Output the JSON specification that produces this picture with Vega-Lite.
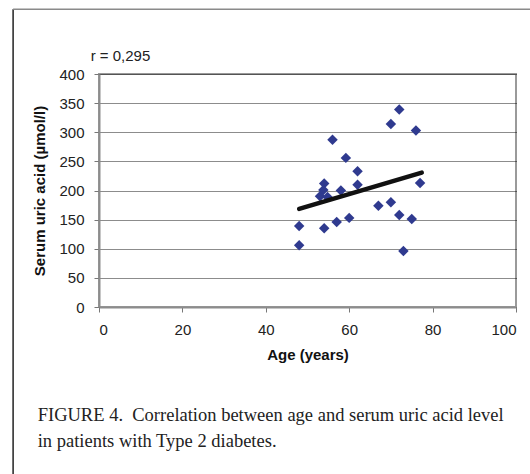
{
  "$schema": "https://vega.github.io/schema/vega-lite/v6.json",
  "width": 417,
  "height": 233,
  "autosize": {"type": "none"},
  "padding": {"left": 99, "top": 74, "right": 14, "bottom": 167},
  "background": "white",
  "view": {"stroke": "#9a9a9a", "strokeWidth": 2},
  "config": {
    "axis": {
      "labelFont": "Liberation Sans",
      "labelFontSize": 15,
      "labelColor": "#222222",
      "titleFont": "Liberation Sans",
      "titleFontSize": 15,
      "titleFontWeight": "bold",
      "titleColor": "#111111",
      "domainColor": "#8c8c8c",
      "domainWidth": 2,
      "tickColor": "#777777",
      "tickSize": 5,
      "tickWidth": 1,
      "labelOverlap": false
    }
  },
  "datasets": {
    "points": [
      {"age": 48, "uric": 139},
      {"age": 48, "uric": 106},
      {"age": 54, "uric": 135},
      {"age": 54, "uric": 212},
      {"age": 53.8, "uric": 201},
      {"age": 53, "uric": 190},
      {"age": 54.8, "uric": 189},
      {"age": 56, "uric": 287},
      {"age": 58, "uric": 200},
      {"age": 57, "uric": 146},
      {"age": 59.2, "uric": 256},
      {"age": 60, "uric": 153},
      {"age": 62, "uric": 233},
      {"age": 62, "uric": 210},
      {"age": 67, "uric": 174},
      {"age": 70, "uric": 180},
      {"age": 70, "uric": 314},
      {"age": 72, "uric": 339},
      {"age": 72, "uric": 158},
      {"age": 73, "uric": 96},
      {"age": 75, "uric": 151},
      {"age": 76, "uric": 303},
      {"age": 77, "uric": 213}
    ],
    "trend": [
      {"age": 48, "uric": 168.5},
      {"age": 77.4, "uric": 230.6}
    ],
    "one": [{}]
  },
  "layer": [
    {
      "data": {"name": "points"},
      "mark": {"type": "point", "shape": "diamond", "filled": true, "size": 110, "color": "#2f3a8f", "opacity": 1},
      "encoding": {
        "x": {
          "field": "age", "type": "quantitative",
          "scale": {"domain": [0, 100], "nice": false},
          "axis": {"values": [0, 20, 40, 60, 80, 100], "title": "Age (years)", "grid": false, "labelPadding": 10, "titlePadding": 10}
        },
        "y": {
          "field": "uric", "type": "quantitative",
          "scale": {"domain": [0, 400], "nice": false},
          "axis": {"values": [0, 50, 100, 150, 200, 250, 300, 350, 400], "title": "Serum uric acid (µmol/l)", "grid": true, "gridColor": "#000000", "gridDash": [1, 1], "gridWidth": 1, "gridOpacity": 0.9, "labelPadding": 10, "titlePadding": 11}
        }
      }
    },
    {
      "data": {"name": "trend"},
      "mark": {"type": "line", "color": "#111111", "strokeWidth": 4.5, "strokeCap": "round"},
      "encoding": {
        "x": {
          "field": "age", "type": "quantitative",
          "scale": {"domain": [0, 100], "nice": false},
          "axis": {"values": [0, 20, 40, 60, 80, 100], "title": "Age (years)", "grid": false, "labelPadding": 10, "titlePadding": 10}
        },
        "y": {
          "field": "uric", "type": "quantitative",
          "scale": {"domain": [0, 400], "nice": false},
          "axis": {"values": [0, 50, 100, 150, 200, 250, 300, 350, 400], "title": "Serum uric acid (µmol/l)", "grid": true, "gridColor": "#000000", "gridDash": [1, 1], "gridWidth": 1, "gridOpacity": 0.9, "labelPadding": 10, "titlePadding": 11}
        }
      }
    },
    {
      "data": {"name": "one"},
      "mark": {"type": "rule", "color": "#222222", "strokeWidth": 1.5},
      "encoding": {
        "x": {"datum": -20.6, "type": "quantitative", "scale": {"domain": [0, 100], "nice": false}, "axis": {"values": [0, 20, 40, 60, 80, 100], "title": "Age (years)", "grid": false, "labelPadding": 10, "titlePadding": 10}},
        "y": {"datum": 511, "type": "quantitative", "scale": {"domain": [0, 400], "nice": false}, "axis": {"values": [0, 50, 100, 150, 200, 250, 300, 350, 400], "title": "Serum uric acid (µmol/l)", "grid": true, "gridColor": "#000000", "gridDash": [1, 1], "gridWidth": 1, "gridOpacity": 0.9, "labelPadding": 10, "titlePadding": 11}},
        "y2": {"datum": -290}
      }
    },
    {
      "data": {"name": "one"},
      "mark": {"type": "rule", "color": "#8a8a8a", "strokeWidth": 1.5},
      "encoding": {
        "x": {"datum": -20.6, "type": "quantitative", "scale": {"domain": [0, 100], "nice": false}, "axis": {"values": [0, 20, 40, 60, 80, 100], "title": "Age (years)", "grid": false, "labelPadding": 10, "titlePadding": 10}},
        "x2": {"datum": 105},
        "y": {"datum": 511, "type": "quantitative", "scale": {"domain": [0, 400], "nice": false}, "axis": {"values": [0, 50, 100, 150, 200, 250, 300, 350, 400], "title": "Serum uric acid (µmol/l)", "grid": true, "gridColor": "#000000", "gridDash": [1, 1], "gridWidth": 1, "gridOpacity": 0.9, "labelPadding": 10, "titlePadding": 11}}
      }
    },
    {
      "data": {"name": "one"},
      "mark": {"type": "text", "text": "r = 0,295", "font": "Liberation Sans", "fontSize": 15, "align": "left", "baseline": "middle", "color": "#222222"},
      "encoding": {
        "x": {"datum": -2, "type": "quantitative", "scale": {"domain": [0, 100], "nice": false}, "axis": {"values": [0, 20, 40, 60, 80, 100], "title": "Age (years)", "grid": false, "labelPadding": 10, "titlePadding": 10}},
        "y": {"datum": 431, "type": "quantitative", "scale": {"domain": [0, 400], "nice": false}, "axis": {"values": [0, 50, 100, 150, 200, 250, 300, 350, 400], "title": "Serum uric acid (µmol/l)", "grid": true, "gridColor": "#000000", "gridDash": [1, 1], "gridWidth": 1, "gridOpacity": 0.9, "labelPadding": 10, "titlePadding": 11}}
      }
    },
    {
      "data": {"name": "one"},
      "mark": {"type": "text", "text": ["FIGURE 4.\u00a0\u00a0Correlation between age and serum uric acid level", "in patients with Type 2 diabetes."], "font": "Liberation Serif", "fontSize": 18.5, "align": "left", "baseline": "alphabetic", "lineHeight": 26, "color": "#222222"},
      "encoding": {
        "x": {"datum": -14.7, "type": "quantitative", "scale": {"domain": [0, 100], "nice": false}, "axis": {"values": [0, 20, 40, 60, 80, 100], "title": "Age (years)", "grid": false, "labelPadding": 10, "titlePadding": 10}},
        "y": {"datum": -196, "type": "quantitative", "scale": {"domain": [0, 400], "nice": false}, "axis": {"values": [0, 50, 100, 150, 200, 250, 300, 350, 400], "title": "Serum uric acid (µmol/l)", "grid": true, "gridColor": "#000000", "gridDash": [1, 1], "gridWidth": 1, "gridOpacity": 0.9, "labelPadding": 10, "titlePadding": 11}}
      }
    }
  ]
}
